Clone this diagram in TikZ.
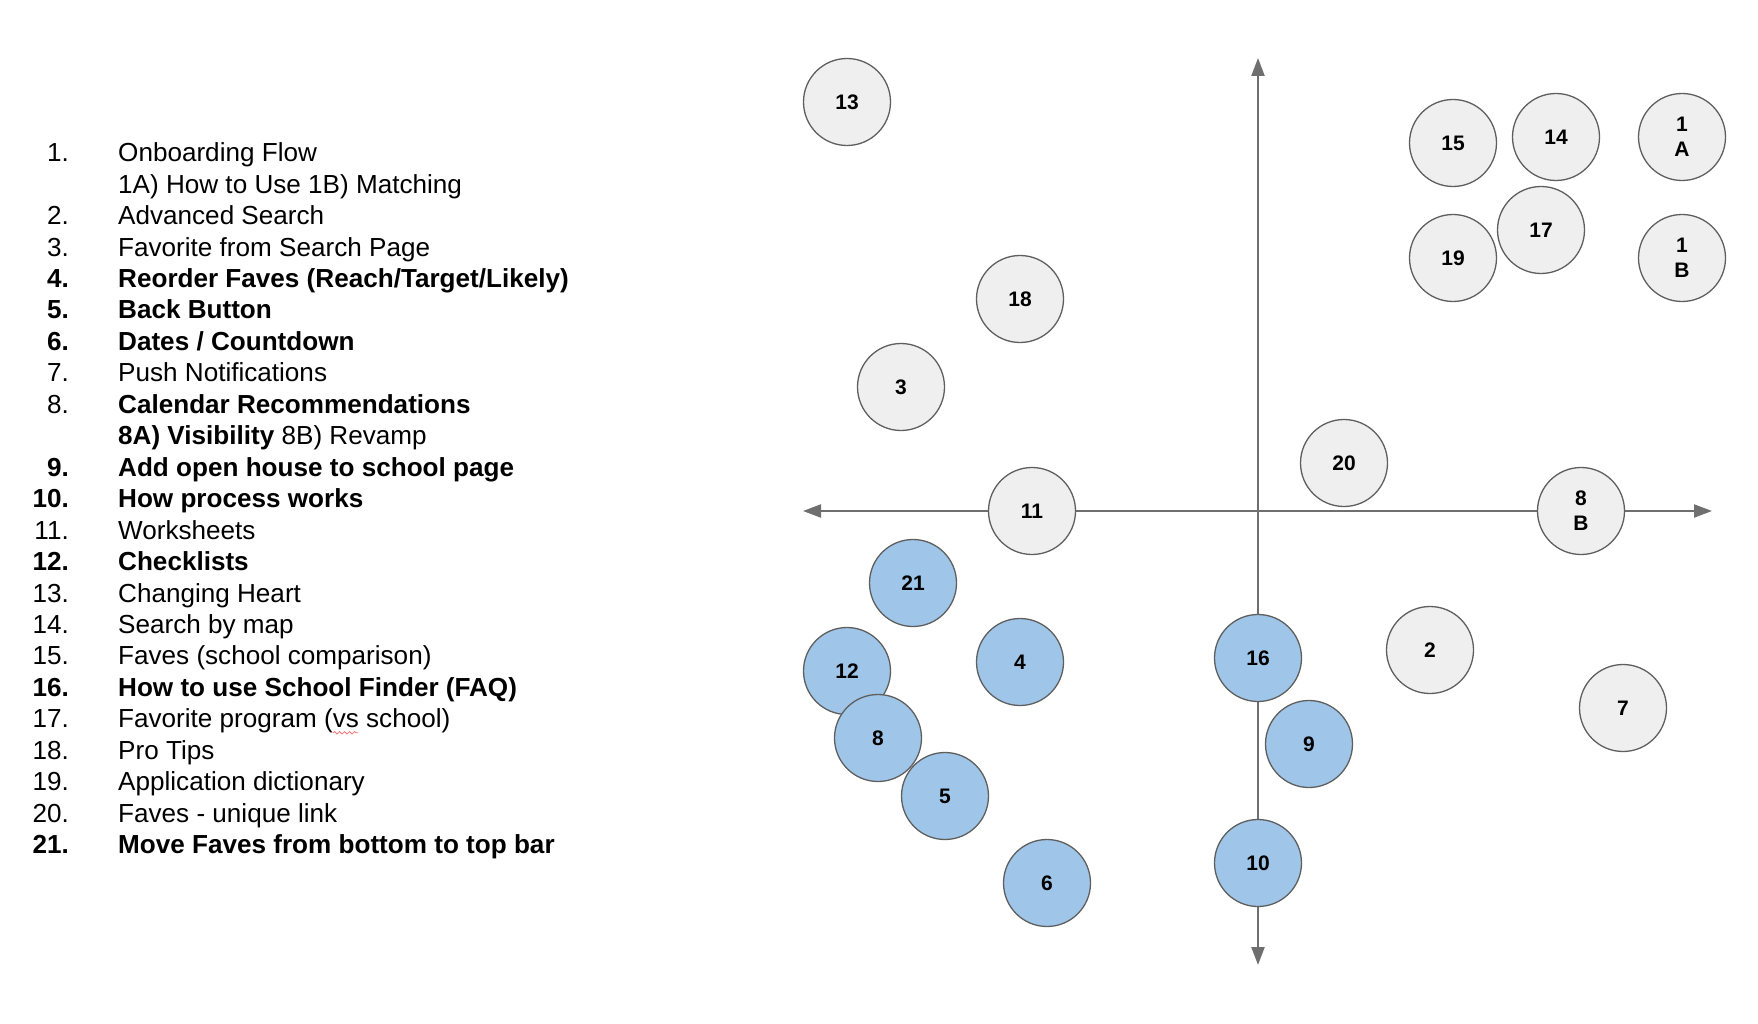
\documentclass[tikz,border=0pt]{standalone}
\usepackage{fontspec}
\setmainfont{Liberation Sans}
\setsansfont{Liberation Sans}
\usepackage{xcolor}
\usepackage{tikz}
\usetikzlibrary{arrows.meta,positioning,decorations.pathmorphing}

\definecolor{chipgrey}{HTML}{EFEFEF}
\definecolor{chipblue}{HTML}{9FC5E8}
\definecolor{edgegrey}{HTML}{5F5F5F}

\begin{document}
\begin{tikzpicture}[
  x=1pt, y=-1pt, font=\sffamily,
  bubble/.style={circle, draw=edgegrey, fill=#1, line width=1.3pt, minimum size=87pt, inner sep=0pt, align=center, font=\sffamily\bfseries\fontsize{21}{25}\selectfont},
  bubble/.default=chipgrey,
  axis/.style={{Triangle[length=18pt,width=13pt]}-{Triangle[length=18pt,width=13pt]}, line width=2.2pt, draw=edgegrey!90, color=edgegrey!90},
  num/.style={anchor=base east, inner sep=0pt, font=\sffamily\fontsize{26.1}{30}\selectfont},
  txt/.style={anchor=base west, inner sep=0pt, font=\sffamily\fontsize{26.1}{30}\selectfont},
]
\useasboundingbox (0,0) rectangle (1758,1024);

% legend
\foreach \n/\t [count=\k] in {
  1./Onboarding Flow,
  /1A) How to Use 1B) Matching,
  2./Advanced Search,
  3./Favorite from Search Page,
  {\bfseries 4.}/{\bfseries Reorder Faves (Reach/Target/Likely)},
  {\bfseries 5.}/{\bfseries Back Button},
  {\bfseries 6.}/{\bfseries Dates / Countdown},
  7./Push Notifications,
  8./{\bfseries Calendar Recommendations},
  /{\textbf{8A) Visibility} 8B) Revamp},
  {\bfseries 9.}/{\bfseries Add open house to school page},
  {\bfseries 10.}/{\bfseries How process works},
  11./Worksheets,
  {\bfseries 12.}/{\bfseries Checklists},
  13./Changing Heart,
  14./Search by map,
  15./Faves (school comparison),
  {\bfseries 16.}/{\bfseries How to use School Finder (FAQ)},
  17./Favorite program (vs school),
  18./Pro Tips,
  19./Application dictionary,
  20./Faves - unique link,
  {\bfseries 21.}/{\bfseries Move Faves from bottom to top bar}}
{
  \node[num] (n\k) at (69,{161.7+31.45*(\k-1)}) {\n};
  \node[txt] (t\k) at (118,{161.7+31.45*(\k-1)}) {\t};
}
\draw[red!55, line width=0.8pt, decorate, decoration={snake, amplitude=1.2pt, segment length=5pt}]
  ([xshift=215pt,yshift=-5pt]t19.base west) -- ++(25,0);

% axes
\coordinate (top) at (1258,58);
\coordinate (bot) at (1258,965);
\coordinate (lft) at (803,511);
\coordinate (rgt) at (1712,511);
\draw[axis] (bot) -- (top);
\draw[axis] (lft) -- (rgt);

% grey ideas
\node[bubble] (c13) at (847,102) {13};
\node[bubble] (c15) at (1453,143) {15};
\node[bubble] (c14) at (1556,137) {14};
\node[bubble] (c1A) at (1682,137) {1\\A};
\node[bubble] (c19) at (1453,258) {19};
\node[bubble] (c17) at (1541,230) {17};
\node[bubble] (c1B) at (1682,258) {1\\B};
\node[bubble] (c18) at (1020,299) {18};
\node[bubble] (c3) at (901,387) {3};
\node[bubble] (c20) at (1344,463) {20};
\node[bubble] (c11) at (1032,511) {11};
\node[bubble] (c8B) at (1581,511) {8\\B};
\node[bubble] (c2) at (1430,650) {2};
\node[bubble] (c7) at (1623,708) {7};

% blue ideas
\node[bubble=chipblue] (c21) at (913,583) {21};
\node[bubble=chipblue] (c12) at (847,671) {12};
\node[bubble=chipblue] (c4) at (1020,662) {4};
\node[bubble=chipblue] (c16) at (1258,658) {16};
\node[bubble=chipblue] (c8) at (878,738) {8};
\node[bubble=chipblue] (c9) at (1309,744) {9};
\node[bubble=chipblue] (c5) at (945,796) {5};
\node[bubble=chipblue] (c6) at (1047,883) {6};
\node[bubble=chipblue] (c10) at (1258,863) {10};
\end{tikzpicture}
\end{document}
